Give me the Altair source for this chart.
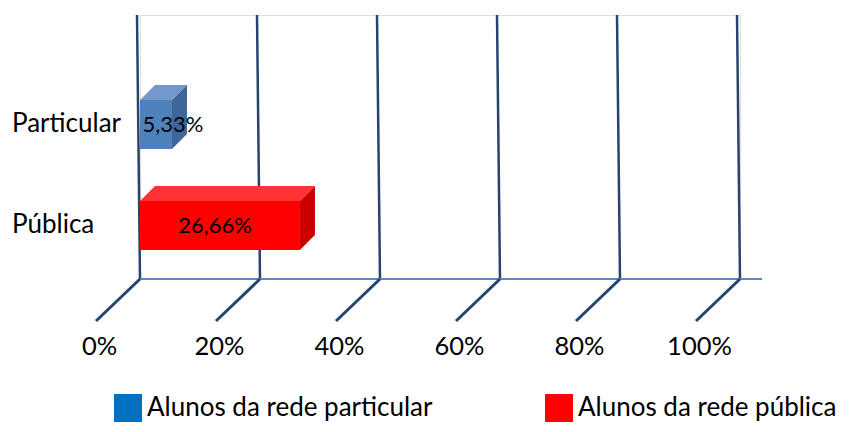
import altair as alt
import pandas as pd

# ---- data ----
categories = ["Particular", "Pública"]
values = [5.33, 26.66]
value_labels = ["5,33%", "26,66%"]
legend_labels = ["Alunos da rede particular", "Alunos da rede pública"]
tick_values = [0, 20, 40, 60, 80, 100]

# ---- style / layout ----
W, H = 600, 264
Y_MAX = 2.64
HALF = 0.245
DX, DY = 2.5, 0.15  # 3-D depth (x in % units, y in scale units)
label_nudge_px = [17, -5]  # horizontal nudge of the value labels
front_colors = ["#4f81bd", "#ff0000"]
top_colors = ["#7399cb", "#ff3333"]
side_colors = ["#3e6699", "#cc0000"]
legend_colors = ["#0070c0", "#ff0000"]
GRID = "#26446d"
FLOOR = "#5b87c4"
FONT = "Lato"

n = len(categories)
centers = [0.535 + 1.01 * (n - 1 - i) for i in range(n)]
px_per_unit = W / 100

front = pd.DataFrame({
    "cat": categories, "value": values, "label": value_labels,
    "y0": [c - HALF for c in centers], "y1": [c + HALF for c in centers],
    "yc": centers,
    "xmid": [v / 2 + s / px_per_unit for v, s in zip(values, label_nudge_px)],
    "col": front_colors,
})
top_rows, side_rows = [], []
for i, (c, v) in enumerate(zip(centers, values)):
    top_rows += [
        {"id": i, "y": c + HALF, "x": 0, "x2": v, "col": top_colors[i]},
        {"id": i, "y": c + HALF + DY, "x": DX, "x2": v + DX, "col": top_colors[i]},
    ]
    side_rows += [
        {"id": i, "x": v, "y": c - HALF, "y2": c + HALF, "col": side_colors[i]},
        {"id": i, "x": v + DX, "y": c - HALF + DY, "y2": c + HALF + DY, "col": side_colors[i]},
    ]
top = pd.DataFrame(top_rows)
side = pd.DataFrame(side_rows)
ticks = pd.DataFrame({"t": tick_values})
leg = pd.DataFrame({"serie": legend_labels})

xs = alt.Scale(domain=[0, 100], nice=False, zero=True)
ys = alt.Scale(domain=[0, Y_MAX], nice=False, zero=True)
xaxis = alt.Axis(values=tick_values, labelExpr="datum.value + '%'", domain=False,
                 ticks=False, grid=False, labelOffset=-41, labelPadding=55,
                 labelFlush=False, labelBound=False, labelOverlap=False,
                 labelFontSize=25.5, labelFont=FONT, labelColor="#000000",
                 title=None)

grid = alt.Chart(ticks).mark_rule(color=GRID, strokeWidth=2.5, xOffset=-3).encode(
    x=alt.X("t:Q", scale=xs, axis=xaxis), x2="t:Q",
    y=alt.value(0), y2=alt.value(H))

floor = alt.Chart(ticks).transform_aggregate(
    lo="min(t)", hi="max(t)").mark_rule(color=FLOOR, strokeWidth=2, x2Offset=22).encode(
    x=alt.X("lo:Q", scale=xs, axis=xaxis), x2="hi:Q", y=alt.value(H))

diag = alt.Chart(ticks).mark_rule(color=GRID, strokeWidth=3, x2Offset=-44).encode(
    x=alt.X("t:Q", scale=xs, axis=xaxis), x2="t:Q",
    y=alt.value(H), y2=alt.value(H + 42))

front_l = alt.Chart(front).mark_rect().encode(
    x=alt.X("value:Q", scale=xs, axis=xaxis), x2=alt.datum(0),
    y=alt.Y("y0:Q", scale=ys, axis=None), y2="y1:Q",
    color=alt.Color("col:N", scale=None))

top_l = alt.Chart(top).mark_area(orient="horizontal").encode(
    y=alt.Y("y:Q", scale=ys, axis=None),
    x=alt.X("x:Q", scale=xs, axis=xaxis), x2="x2:Q",
    detail="id:N", color=alt.Color("col:N", scale=None))

side_l = alt.Chart(side).mark_area(orient="vertical").encode(
    x=alt.X("x:Q", scale=xs, axis=xaxis),
    y=alt.Y("y:Q", scale=ys, axis=None), y2="y2:Q",
    detail="id:N", color=alt.Color("col:N", scale=None))

val_text = alt.Chart(front).mark_text(font=FONT, fontSize=22, color="#000000",
                                      align="center", baseline="middle").encode(
    x=alt.X("xmid:Q", scale=xs, axis=xaxis),
    y=alt.Y("yc:Q", scale=ys, axis=None), text="label:N")

cat_text = alt.Chart(front).mark_text(font=FONT, fontSize=26, color="#000000",
                                      align="left", baseline="middle", dy=-1).encode(
    x=alt.value(-128),
    y=alt.Y("yc:Q", scale=ys, axis=None), text="cat:N")

legend_l = alt.Chart(leg).mark_point(opacity=0, filled=True).encode(
    x=alt.value(0), y=alt.value(0),
    color=alt.Color("serie:N", scale=alt.Scale(domain=legend_labels, range=legend_colors),
                    legend=alt.Legend(orient="none", legendX=-26, legendY=379,
                                      direction="horizontal", symbolType="square",
                                      symbolSize=784, symbolOpacity=1, symbolStrokeWidth=0,
                                      labelFontSize=26, labelFont=FONT, labelColor="#000000",
                                      labelLimit=1000, labelOffset=5, columnPadding=112,
                                      title=None, padding=0)))

chart = alt.layer(grid, floor, diag, front_l, top_l, side_l, val_text, cat_text, legend_l).properties(
    width=W, height=H,
    autosize=alt.AutoSizeParams(type="none"),
    padding={"left": 132, "top": 7, "right": 103, "bottom": 145},
    background="white",
).configure_view(stroke=None).configure(font=FONT)

chart.save("out.html", embed_options={"renderer": "svg", "actions": False})
